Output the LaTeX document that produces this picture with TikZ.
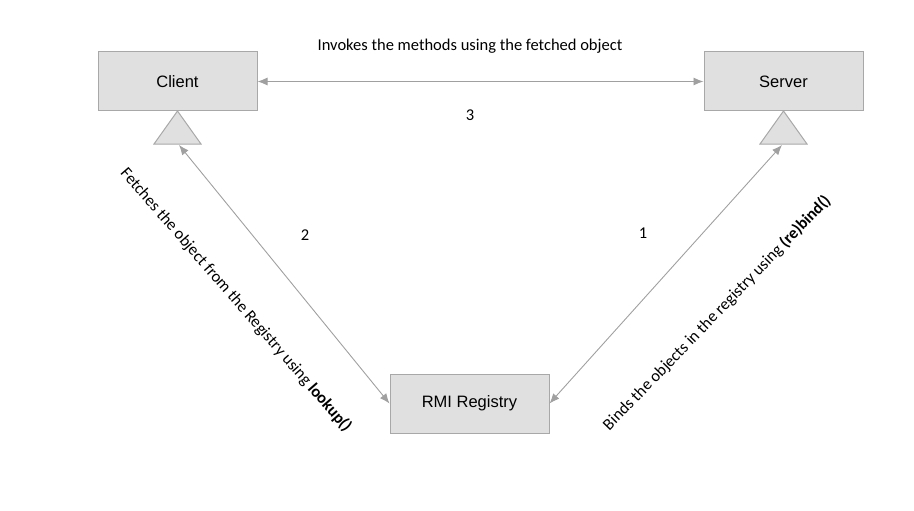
\documentclass[tikz,border=0pt]{standalone}
\usepackage{fontspec}
\setmainfont{Carlito}
\newfontfamily\arialfont{Liberation Sans}
\usetikzlibrary{arrows.meta,shapes.geometric}
\definecolor{boxfill}{HTML}{E0E0E0}
\definecolor{boxline}{HTML}{A8A8A8}
\definecolor{arrowgray}{HTML}{A0A0A0}
\begin{document}
\begin{tikzpicture}[x=1pt,y=-1pt,
  box/.style={draw=boxline,fill=boxfill,line width=1pt,minimum width=159pt,minimum height=59pt,inner sep=0pt,font=\arialfont\fontsize{16.5}{19}\selectfont},
  tri/.style={draw=boxline,fill=boxfill,line width=1pt},
  conn/.style={draw=arrowgray,line width=0.9pt,{Latex[length=10pt,width=8pt]}-{Latex[length=10pt,width=8pt]}},
  lbl/.style={font=\fontsize{16.5}{19}\selectfont,inner sep=0pt}]
\useasboundingbox (0,0) rectangle (914,511);
\node[box] (client) at (177.5,81.5) {Client};
\node[box] (server) at (783.5,81.5) {Server};
\node[box] (rmi) at (469.5,403.5) {RMI Registry};
\draw[tri] (177.5,111) -- (201,144) -- (154,144) -- cycle;
\draw[tri] (783.5,111) -- (807,144) -- (760,144) -- cycle;
\coordinate (ctri) at (179,145);
\coordinate (stri) at (782,145);
\draw[conn] (client.east) -- (server.west);
\draw[conn] (ctri) -- (rmi.west);
\draw[conn] (stri) -- (rmi.east);
\node[lbl] (l3t) at (470,46) {Invokes the methods using the fetched object};
\node[lbl] (l3) at (470,115) {3};
\node[lbl] (l2) at (305,235) {2};
\node[lbl] (l1) at (643,233) {1};
\node[lbl,rotate=-49] (l2t) at (236,300) {Fetches the object from the Registry using \textbf{lookup()}};
\node[lbl,rotate=46] (l1t) at (717,313) {Binds the objects in the registry using \textbf{(re)bind()}};
\end{tikzpicture}
\end{document}
